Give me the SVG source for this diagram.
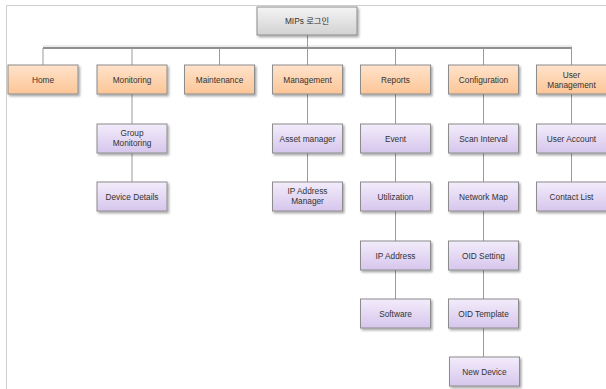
<svg xmlns="http://www.w3.org/2000/svg" width="606" height="389" viewBox="0 0 606 389">
  <defs>
    <linearGradient id="gOrange" x1="0" y1="0" x2="0" y2="1">
      <stop offset="0" stop-color="#ffe3cb"/>
      <stop offset="1" stop-color="#fcc596"/>
    </linearGradient>
    <linearGradient id="gPurple" x1="0" y1="0" x2="0" y2="1">
      <stop offset="0" stop-color="#f3ecfb"/>
      <stop offset="1" stop-color="#d6c6ec"/>
    </linearGradient>
    <linearGradient id="gGray" x1="0" y1="0" x2="0" y2="1">
      <stop offset="0" stop-color="#f4f4f4"/>
      <stop offset="1" stop-color="#d2d2d2"/>
    </linearGradient>
    <filter id="shadow" x="-10%" y="-20%" width="130%" height="150%">
      <feDropShadow dx="1.5" dy="1.8" stdDeviation="0.9" flood-color="#000" flood-opacity="0.35"/>
    </filter>
  </defs>
  <style>
    .box { stroke: #8c8c8c; stroke-width: 1; filter: url(#shadow); }
    .top { fill: url(#gOrange); }
    .sub { fill: url(#gPurple); }
    .root { fill: url(#gGray); }
    text { font-family: "Liberation Sans", "Noto Sans CJK KR", sans-serif; font-size: 8.3px; fill: #333; text-anchor: middle; }
    .wire { stroke: #9a9a9a; stroke-width: 1; fill: none; }
    .bus { stroke: #8f8f8f; stroke-width: 2; fill: none; }
    .frame { stroke: #cfcfcf; stroke-width: 1; fill: none; }
  </style>

  <rect width="606" height="389" fill="#ffffff"/>
  <!-- page frame -->
  <path class="frame" d="M6.5,389 V5.5 H606"/>

  <g id="connectors">
    <!-- main bus -->
    <line x1="43" y1="46" x2="572" y2="46" stroke="#d8d8d8" stroke-width="1"/>
    <line class="bus" x1="43" y1="48" x2="572" y2="48"/>
    <!-- root down to bus -->
    <line class="wire" x1="307.5" y1="35" x2="307.5" y2="65"/>
    <!-- stubs to first-level items -->
    <line class="wire" x1="43" y1="48" x2="43" y2="65"/>
    <line class="wire" x1="132" y1="48" x2="132" y2="65"/>
    <line class="wire" x1="219.5" y1="48" x2="219.5" y2="65"/>
    <line class="wire" x1="395.5" y1="48" x2="395.5" y2="65"/>
    <line class="wire" x1="483.5" y1="48" x2="483.5" y2="65"/>
    <line class="wire" x1="571.5" y1="48" x2="571.5" y2="65"/>
    <!-- Monitoring column -->
    <line class="wire" x1="132" y1="94" x2="132" y2="182"/>
    <!-- Management column -->
    <line class="wire" x1="307.5" y1="94" x2="307.5" y2="182"/>
    <!-- Reports column -->
    <line class="wire" x1="395.5" y1="94" x2="395.5" y2="299"/>
    <!-- Configuration column -->
    <line class="wire" x1="483.5" y1="94" x2="483.5" y2="357"/>
    <!-- User Management column -->
    <line class="wire" x1="571.5" y1="94" x2="571.5" y2="182"/>
  </g>

  <g id="root">
    <rect class="box root" x="257" y="7" width="100" height="28"/>
    <text x="307" y="24">MIPs 로그인</text>
  </g>

  <g id="home">
    <rect class="box top" x="8" y="65" width="70" height="29"/>
    <text x="43" y="82.5">Home</text>
  </g>
  <g id="monitoring">
    <rect class="box top" x="97" y="65" width="70" height="29"/>
    <text x="132" y="82.5">Monitoring</text>
  </g>
  <g id="maintenance">
    <rect class="box top" x="184.5" y="65" width="70" height="29"/>
    <text x="219.5" y="82.5">Maintenance</text>
  </g>
  <g id="management">
    <rect class="box top" x="272.5" y="65" width="70" height="29"/>
    <text x="307.5" y="82.5">Management</text>
  </g>
  <g id="reports">
    <rect class="box top" x="360.5" y="65" width="70" height="29"/>
    <text x="395.5" y="82.5">Reports</text>
  </g>
  <g id="configuration">
    <rect class="box top" x="448.5" y="65" width="70" height="29"/>
    <text x="483.5" y="82.5">Configuration</text>
  </g>
  <g id="user-management">
    <rect class="box top" x="536.5" y="65" width="70" height="29"/>
    <text x="571.5" y="77.5">User</text>
    <text x="571.5" y="88">Management</text>
  </g>

  <g id="group-monitoring">
    <rect class="box sub" x="97" y="124" width="70" height="29"/>
    <text x="132" y="135.5">Group</text>
    <text x="132" y="146">Monitoring</text>
  </g>
  <g id="device-details">
    <rect class="box sub" x="97" y="182" width="70" height="29"/>
    <text x="132" y="199.5">Device Details</text>
  </g>

  <g id="asset-manager">
    <rect class="box sub" x="272.5" y="124" width="70" height="29"/>
    <text x="307.5" y="141.5">Asset manager</text>
  </g>
  <g id="ip-address-manager">
    <rect class="box sub" x="272.5" y="182" width="70" height="29"/>
    <text x="307.5" y="193.5">IP Address</text>
    <text x="307.5" y="204">Manager</text>
  </g>

  <g id="event">
    <rect class="box sub" x="360.5" y="124" width="70" height="29"/>
    <text x="395.5" y="141.5">Event</text>
  </g>
  <g id="utilization">
    <rect class="box sub" x="360.5" y="182" width="70" height="29"/>
    <text x="395.5" y="199.5">Utilization</text>
  </g>
  <g id="ip-address">
    <rect class="box sub" x="360.5" y="241" width="70" height="29"/>
    <text x="395.5" y="258.5">IP Address</text>
  </g>
  <g id="software">
    <rect class="box sub" x="360.5" y="299" width="70" height="29"/>
    <text x="395.5" y="316.5">Software</text>
  </g>

  <g id="scan-interval">
    <rect class="box sub" x="448.5" y="124" width="70" height="29"/>
    <text x="483.5" y="141.5">Scan Interval</text>
  </g>
  <g id="network-map">
    <rect class="box sub" x="448.5" y="182" width="70" height="29"/>
    <text x="483.5" y="199.5">Network Map</text>
  </g>
  <g id="oid-setting">
    <rect class="box sub" x="448.5" y="241" width="70" height="29"/>
    <text x="483.5" y="258.5">OID Setting</text>
  </g>
  <g id="oid-template">
    <rect class="box sub" x="448.5" y="299" width="70" height="29"/>
    <text x="483.5" y="316.5">OID Template</text>
  </g>
  <g id="new-device">
    <rect class="box sub" x="449.5" y="357" width="70" height="29"/>
    <text x="484.5" y="374.5">New Device</text>
  </g>

  <g id="user-account">
    <rect class="box sub" x="536.5" y="124" width="70" height="29"/>
    <text x="571.5" y="141.5">User Account</text>
  </g>
  <g id="contact-list">
    <rect class="box sub" x="536.5" y="182" width="70" height="29"/>
    <text x="571.5" y="199.5">Contact List</text>
  </g>
</svg>
